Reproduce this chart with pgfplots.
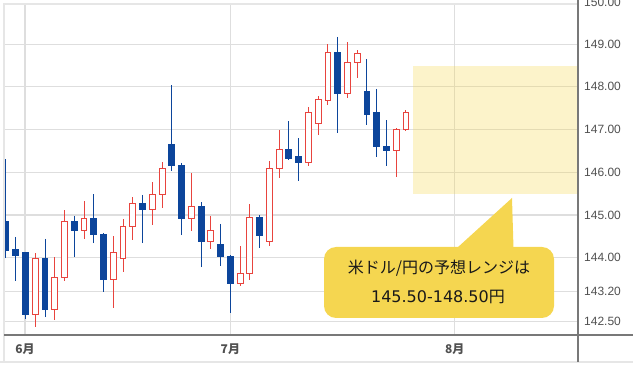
\documentclass[border=0pt]{standalone}
\usepackage{pgfplots}
\pgfplotsset{compat=1.18}
\usepackage{pgfplotstable}
\usepgfplotslibrary{statistics}
\usepackage{fontspec}
\setmainfont{Liberation Sans}
\newfontfamily\jp{Noto Sans CJK JP}
\newfontfamily\djv{DejaVu Sans}
\definecolor{upred}{RGB}{232,68,62}
\definecolor{dnblue}{RGB}{12,69,155}
\definecolor{gridc}{RGB}{222,222,222}
\definecolor{axisc}{RGB}{120,120,120}
\definecolor{framec}{RGB}{230,230,230}
\definecolor{labc}{RGB}{80,80,80}
\definecolor{callout}{RGB}{245,214,80}

% i = trading-day index, lw = low, lq = lower body edge, uq = upper body edge, uw = high
\pgfplotstableread{
i lw lq uq uw
0 143.99 144.18 144.84 146.31
1 143.46 144.04 144.20 144.49
2 142.57 142.66 144.11 144.13
3 142.38 142.66 143.99 144.11
4 142.61 142.78 143.99 144.44
5 142.54 142.78 143.53 144.02
6 143.46 143.53 144.84 145.12
7 144.02 144.63 144.84 144.98
8 144.44 144.63 144.91 145.33
9 144.34 144.55 144.91 145.49
10 143.20 143.50 144.55 144.57
11 142.82 143.50 144.11 144.51
12 143.67 143.99 144.72 144.91
13 144.41 144.72 145.28 145.42
14 144.34 145.12 145.28 145.47
15 144.77 145.14 145.49 145.77
16 145.16 145.47 146.08 146.24
17 146.03 146.15 146.66 148.04
18 144.53 144.91 146.15 146.22
19 144.63 144.91 145.19 145.98
20 143.78 144.37 145.19 145.30
21 144.20 144.37 144.63 144.98
22 143.81 144.02 144.32 144.79
23 142.71 143.39 144.02 144.06
24 143.34 143.39 143.64 144.27
25 143.48 143.64 144.93 145.26
26 144.23 144.51 144.93 145.00
27 144.27 144.39 146.08 146.26
28 145.87 146.08 146.54 146.99
29 146.29 146.33 146.54 147.20
30 145.80 146.24 146.36 146.80
31 146.15 146.22 147.41 147.53
32 146.87 147.15 147.71 147.78
33 147.57 147.69 148.81 149.00
34 146.92 147.85 148.81 149.17
35 147.74 147.85 148.58 149.05
36 148.21 148.58 148.79 148.86
37 147.11 147.36 147.88 148.65
38 146.36 146.61 147.39 147.95
39 146.15 146.50 146.61 147.22
40 145.89 146.50 147.01 147.04
41 146.97 146.99 147.41 147.46
}\candles

\pgfplotsset{
  candlebase/.style={
    boxplot/draw direction=y,
    boxplot/box extend=0.6,
    boxplot/whisker extend=0,
  },
  upc/.style={candlebase, solid, line width=1pt, draw=upred, fill=white,
    boxplot/every box/.style={draw=upred, fill=white, line width=1pt},
    boxplot/every whisker/.style={draw=upred, line width=1pt},
    boxplot/every median/.style={draw=upred, line width=1pt}},
  dnc/.style={candlebase, solid, line width=1pt, draw=dnblue, fill=dnblue,
    boxplot/every box/.style={draw=dnblue, fill=dnblue, line width=1pt},
    boxplot/every whisker/.style={draw=dnblue, line width=1pt},
    boxplot/every median/.style={draw=dnblue, line width=1pt}},
}

% draws candle of table row #1 with style #2
\newcommand{\candle}[2]{%
  \pgfplotstablegetelem{#1}{lw}\of\candles \edef\vlw{\pgfplotsretval}%
  \pgfplotstablegetelem{#1}{lq}\of\candles \edef\vlq{\pgfplotsretval}%
  \pgfplotstablegetelem{#1}{uq}\of\candles \edef\vuq{\pgfplotsretval}%
  \pgfplotstablegetelem{#1}{uw}\of\candles \edef\vuw{\pgfplotsretval}%
  \edef\doplot{\noexpand\addplot[#2, boxplot prepared={draw position=#1,
    lower whisker=\vlw, lower quartile=\vlq, median=\vlq,
    upper quartile=\vuq, upper whisker=\vuw}] coordinates {};}%
  \doplot
}

\begin{document}
\begin{tikzpicture}[x=1pt,y=1pt]
\begin{axis}[
  at={(4pt,32pt)}, anchor=south west,
  scale only axis, width=574pt, height=331pt,
  xmin=-0.205, xmax=58.63, ymin=142.19, ymax=149.94,
  axis line style={draw=none},
  major tick length=0pt,
  xtick={1.95,23,46}, xticklabels={6月,7月,8月},
  ytick={142.5,143.2,144,145,146,147,148,149},
  yticklabels={142.50,143.20,144.00,145.00,146.00,147.00,148.00,149.00},
  yticklabel pos=right,
  xmajorgrids, ymajorgrids,
  grid style={draw=gridc, line width=1.2pt},
  xticklabel style={font=\jp\bfseries\fontsize{12}{12}\selectfont, text=labc, anchor=center, inner sep=0pt, yshift=-14pt},
  yticklabel style={font=\fontsize{12}{12}\selectfont, text=labc, anchor=west, inner sep=0pt, xshift=6pt},
]
\addplot[draw=none, fill=callout, fill opacity=0.3] coordinates {(41.72,145.5) (58.63,145.5) (58.63,148.5) (41.72,148.5)} -- cycle;
\pgfplotsinvokeforeach{0,1,2,4,7,9,10,14,17,18,20,22,23,26,29,30,34,37,38,39}{
  \candle{#1}{dnc}
}
\pgfplotsinvokeforeach{3,5,6,8,11,12,13,15,16,19,21,24,25,27,28,31,32,33,35,36,40,41}{
  \candle{#1}{upc}
}
\end{axis}
% frame and axis lines
\draw[framec, line width=1.2pt] (3,363) -- (578,363);
\draw[framec, line width=1.2pt] (4,363) -- (4,5);
\draw[framec, line width=1.2pt] (0,5) -- (633,5);
\draw[axisc, line width=1.2pt] (4,32) -- (633,32);
\draw[axisc, line width=1.2pt] (578,367) -- (578,5);
\node[anchor=west, inner sep=0pt, font=\fontsize{12}{12}\selectfont, text=labc] at (584,365) {150.00};
% callout
\fill[callout, rounded corners=12pt] (324,120) rectangle (554,49);
\fill[callout] (457,119) -- (512,169) -- (513.5,119) -- cycle;
\node[font=\jp\fontsize{16}{16}\selectfont, text=black!90] at (439,99) {米ドル/円の予想レンジは};
\node[font=\fontsize{16}{16}\selectfont, text=black!90] at (438,70) {{\djv 145.50-148.50}{\jp 円}};
\pgfresetboundingbox
\path[use as bounding box] (0,0) rectangle (633,367);
\end{tikzpicture}
\end{document}
